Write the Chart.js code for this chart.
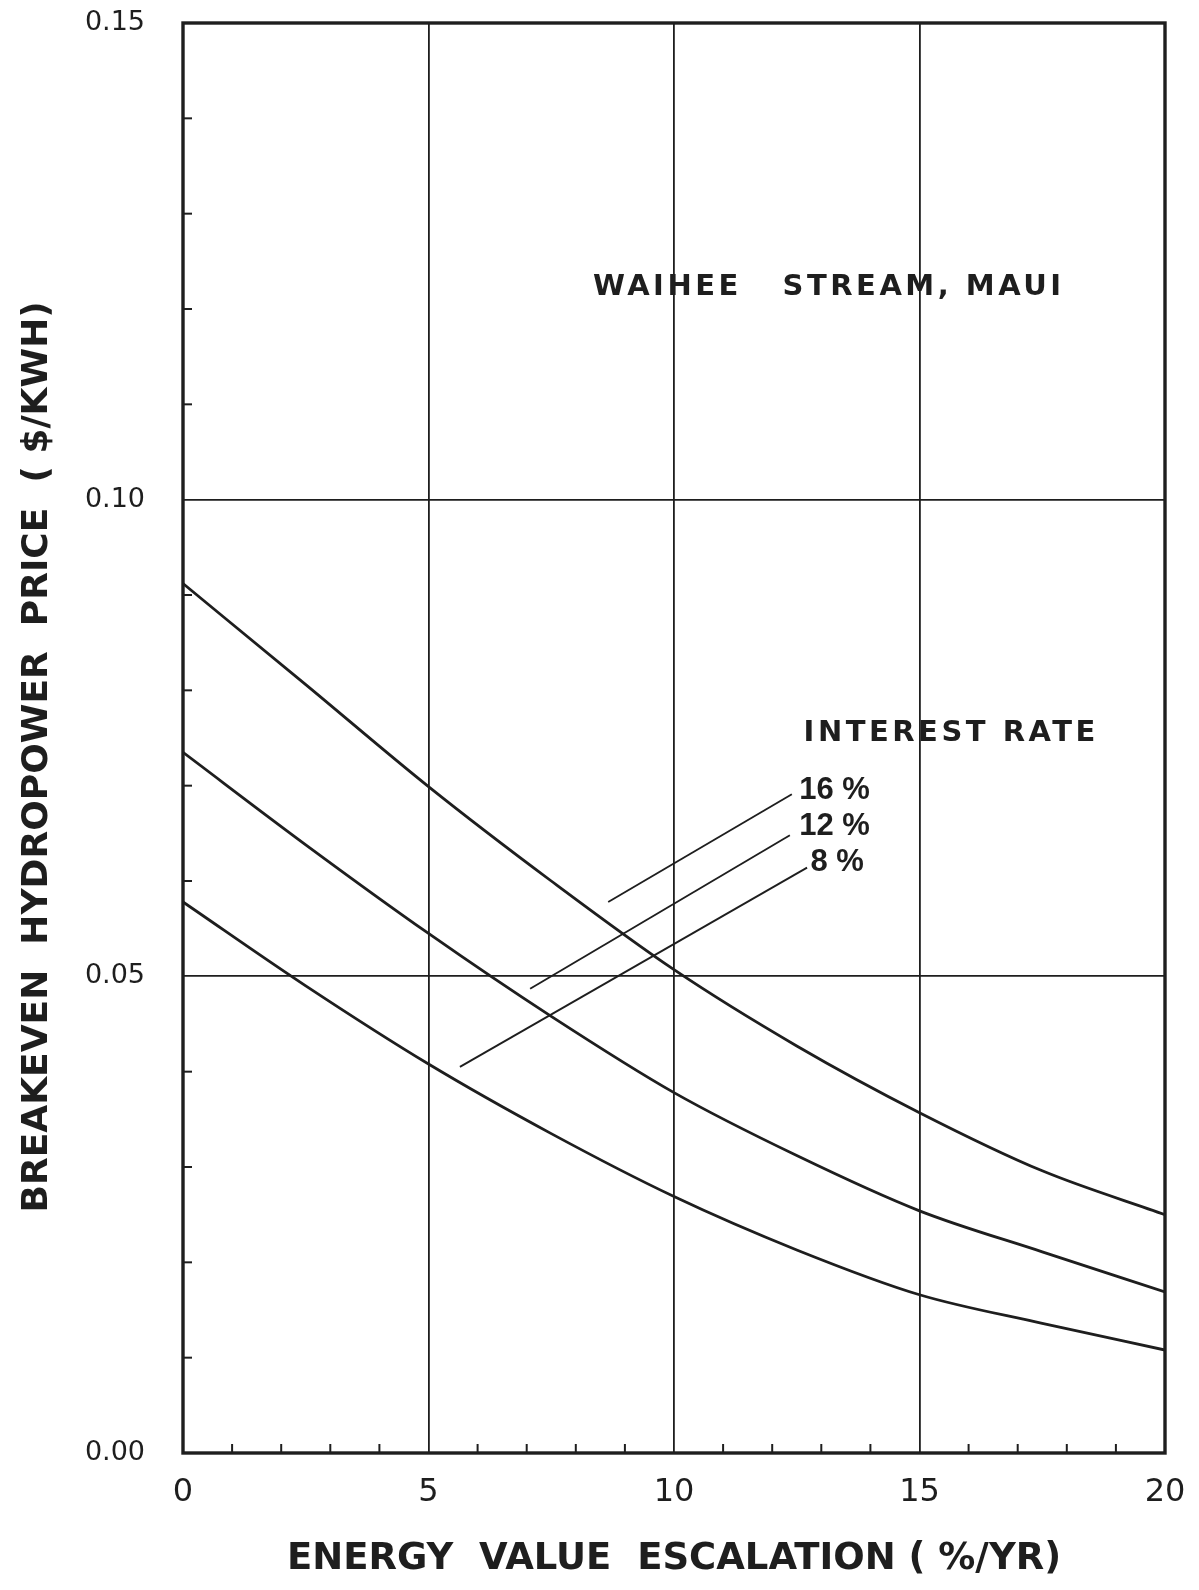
<!DOCTYPE html>
<html>
<head>
<meta charset="utf-8">
<script src="https://cdn.jsdelivr.net/npm/chart.js@4.4.1/dist/chart.umd.min.js"></script>
<style>
  html, body { margin: 0; padding: 0; background: #fff; }
  #wrap { width: 1199px; height: 1590px; }
</style>
</head>
<body>
<div id="wrap"><canvas id="chart" width="1199" height="1590"></canvas></div>
<script>
// Breakeven hydropower price vs energy value escalation, Waihee Stream, Maui
const escalation = [0, 2.5, 5, 7.5, 10, 12.5, 15, 17.5, 20];
const rate16 = [0.0912, 0.0806, 0.0699, 0.0600, 0.0507, 0.0427, 0.0357, 0.0296, 0.0250];
const rate12 = [0.0735, 0.0638, 0.0545, 0.0458, 0.0378, 0.0312, 0.0254, 0.0211, 0.0169];
const rate8 = [0.0578, 0.0490, 0.0408, 0.0335, 0.0269, 0.0213, 0.0166, 0.0136, 0.0108];

const xTickLabels = ['0', '5', '10', '15', '20'];
const yTickLabels = ['0.00', '0.05', '0.10', '0.15'];

// headings inside the plot, in data units
const headings = [
  { text: 'WAIHEE   STREAM, MAUI', x: 8.35, y: 0.1223 },
  { text: 'INTEREST RATE', x: 12.64, y: 0.0755 }
];
// rate labels and their leader lines to the curves
const rateLabels = [
  { text: '16 %', x: 12.55, y: 0.0695 },
  { text: '12 %', x: 12.55, y: 0.0657 },
  { text: '8 %', x: 12.78, y: 0.0619 }
];
const leaders = [
  [8.66, 0.0578, 12.40, 0.0691],
  [7.07, 0.0487, 12.36, 0.0648],
  [5.64, 0.0405, 12.71, 0.0614]
];

const ink = '#1e1e1e';

function toPoints(ys) {
  return ys.map((y, i) => ({ x: escalation[i], y: y }));
}

function curve(label, ys) {
  return {
    label: label,
    data: toPoints(ys),
    borderColor: ink,
    borderWidth: 2.8,
    pointRadius: 0,
    fill: false,
    tension: 0.4,
    cubicInterpolationMode: 'monotone'
  };
}

const paperPlugin = {
  id: 'paper',
  afterDatasetsDraw(chart) {
    const { ctx, chartArea, scales } = chart;
    const xs = scales.x, ys = scales.y;
    ctx.save();
    ctx.strokeStyle = ink;

    // inward minor ticks
    ctx.lineWidth = 2;
    for (let v = 1; v < 20; v++) {
      if (v % 5 === 0) continue;
      const px = xs.getPixelForValue(v);
      ctx.beginPath();
      ctx.moveTo(px, chartArea.bottom);
      ctx.lineTo(px, chartArea.bottom - 9);
      ctx.stroke();
    }
    for (let v = 1; v < 15; v++) {
      if (v % 5 === 0) continue;
      const py = ys.getPixelForValue(v / 100);
      ctx.beginPath();
      ctx.moveTo(chartArea.left, py);
      ctx.lineTo(chartArea.left + 9, py);
      ctx.stroke();
    }

    // frame
    ctx.lineWidth = 3.4;
    ctx.strokeRect(chartArea.left, chartArea.top,
      chartArea.right - chartArea.left, chartArea.bottom - chartArea.top);

    // leader lines
    ctx.lineWidth = 1.9;
    leaders.forEach(l => {
      ctx.beginPath();
      ctx.moveTo(xs.getPixelForValue(l[0]), ys.getPixelForValue(l[1]));
      ctx.lineTo(xs.getPixelForValue(l[2]), ys.getPixelForValue(l[3]));
      ctx.stroke();
    });

    ctx.fillStyle = ink;
    ctx.textAlign = 'left';
    ctx.textBaseline = 'middle';
    ctx.font = 'bold 29px "DejaVu Sans"';
    ctx.letterSpacing = '3.5px';
    headings.forEach(n => {
      ctx.fillText(n.text, xs.getPixelForValue(n.x), ys.getPixelForValue(n.y));
    });
    ctx.letterSpacing = '0px';
    ctx.font = 'bold 31px "Liberation Sans"';
    rateLabels.forEach(n => {
      ctx.fillText(n.text, xs.getPixelForValue(n.x), ys.getPixelForValue(n.y));
    });
    ctx.restore();
  }
};

new Chart(document.getElementById('chart'), {
  type: 'line',
  data: {
    datasets: [
      curve('16 %', rate16),
      curve('12 %', rate12),
      curve('8 %', rate8)
    ]
  },
  options: {
    responsive: false,
    animation: false,
    layout: { padding: { left: 0, right: 34, top: 23, bottom: 0 } },
    plugins: {
      legend: { display: false },
      tooltip: { enabled: false }
    },
    scales: {
      x: {
        type: 'linear',
        min: 0,
        max: 20,
        afterFit(scale) {
          scale.height = 137;
          scale.paddingLeft = 0;
          scale.paddingRight = 0;
        },
        ticks: {
          stepSize: 1,
          autoSkip: false,
          maxRotation: 0,
          padding: 20,
          color: ink,
          font: { family: 'DejaVu Sans', size: 32 },
          callback: v => (v % 5 === 0 ? xTickLabels[v / 5] : '')
        },
        grid: {
          drawTicks: false,
          color: c => (c.tick.value % 5 === 0 ? ink : 'rgba(0,0,0,0)'),
          lineWidth: 1.8
        },
        border: { display: false },
        title: {
          display: true,
          text: 'ENERGY  VALUE  ESCALATION ( %/YR)',
          color: ink,
          font: { family: 'DejaVu Sans', size: 37, weight: 'bold' },
          padding: { top: 0, bottom: 8 }
        }
      },
      y: {
        min: 0,
        max: 0.15,
        afterFit(scale) {
          scale.width = 183;
          scale.paddingTop = 0;
          scale.paddingBottom = 0;
        },
        ticks: {
          stepSize: 0.01,
          autoSkip: false,
          padding: 38,
          color: ink,
          font: { family: 'DejaVu Sans', size: 27 },
          callback: v => {
            const k = Math.round(v * 100);
            return k % 5 === 0 ? yTickLabels[k / 5] : '';
          }
        },
        grid: {
          drawTicks: false,
          color: c => (Math.round(c.tick.value * 100) % 5 === 0 ? ink : 'rgba(0,0,0,0)'),
          lineWidth: 1.8
        },
        border: { display: false },
        title: {
          display: true,
          // trailing spaces nudge the rotated title down to where the original sits
          text: 'BREAKEVEN  HYDROPOWER  PRICE  ( $/KWH)   ',
          color: ink,
          font: { family: 'DejaVu Sans', size: 36, weight: 'bold' },
          padding: { top: 16, bottom: 0 }
        }
      }
    }
  },
  plugins: [paperPlugin]
});
</script>
</body>
</html>
